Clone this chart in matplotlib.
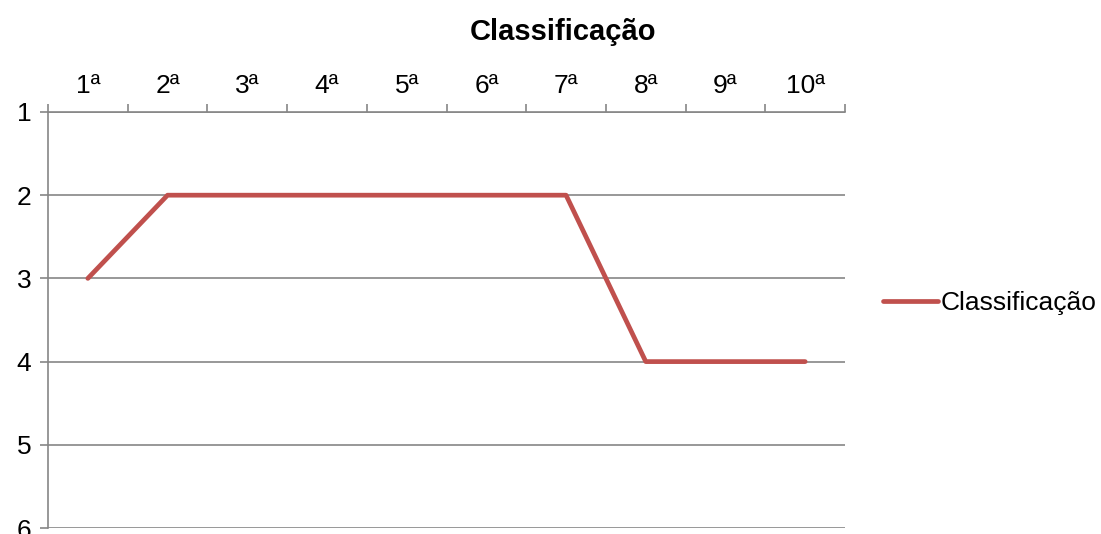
import matplotlib.pyplot as plt
from matplotlib.ticker import FixedLocator

plt.rcParams['font.family'] = ['Liberation Sans', 'DejaVu Sans']

# Positions per round
categories = ["1ª", "2ª", "3ª", "4ª", "5ª", "6ª", "7ª", "8ª", "9ª", "10ª"]
classificacao = [3, 2, 2, 2, 2, 2, 2, 4, 4, 4]
y_ticks = [1, 2, 3, 4, 5, 6]

grid_color = "#868686"
line_color = "#C0504D"

fig = plt.figure(figsize=(11.01, 5.34), dpi=100)
ax = fig.add_axes([0.0436, 0.0112, 0.7239, 0.7791])

x = list(range(1, len(categories) + 1))
ax.plot(x, classificacao, color=line_color, linewidth=3.4,
        solid_capstyle="round", label="Classificação", zorder=3)

# inverted y axis, categories along the top
ax.set_xlim(0.5, len(categories) + 0.5)
ax.set_ylim(6, 1)
ax.set_yticks(y_ticks)
ax.yaxis.grid(True, color=grid_color, linewidth=1.2)
ax.set_axisbelow(True)

ax.xaxis.tick_top()
ax.set_xticks(x)
ax.set_xticklabels(categories)
ax.xaxis.set_minor_locator(FixedLocator([i + 0.5 for i in range(len(categories) + 1)]))
ax.tick_params(axis="x", which="major", length=0, pad=10, labelsize=19)
ax.tick_params(axis="x", which="minor", length=6, width=1.2, color=grid_color)
ax.tick_params(axis="y", length=6, width=1.2, color=grid_color, labelsize=19, pad=6)

for side in ["right", "bottom"]:
    ax.spines[side].set_visible(False)
for side in ["top", "left"]:
    ax.spines[side].set_color(grid_color)
    ax.spines[side].set_linewidth(1.2)

fig.text(0.511, 0.940, "Classificação", ha="center", va="center",
         fontsize=21, fontweight="bold")

fig.legend(loc="center left", bbox_to_anchor=(0.780, 0.433), frameon=False,
           fontsize=19, handlelength=2.1, handletextpad=0.12)

fig.savefig("out.png", dpi=100)
